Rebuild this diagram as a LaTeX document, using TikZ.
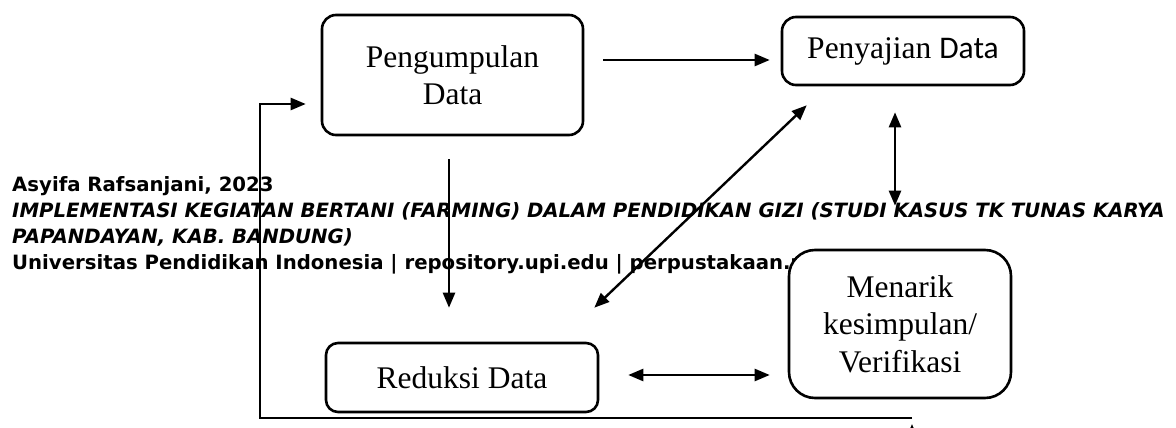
\documentclass[tikz,border=0pt]{standalone}
\usepackage{fontspec}
\setmainfont{Liberation Serif}
\newfontfamily\wmfont{DejaVu Sans}
\newfontfamily\calfont{Carlito}
\usetikzlibrary{arrows.meta}

\begin{document}
\begin{tikzpicture}[x=1pt, y=-1pt,
    stage/.style={rectangle, draw, line width=2.6pt, rounded corners=14pt, fill=white, align=center, inner sep=0pt, font=\fontsize{31.5}{37.5}\selectfont},
    arr/.style={line width=2.4pt, -{Triangle[length=15pt,width=12pt]}},
    darr/.style={line width=2.4pt, {Triangle[length=15pt,width=12pt]}-{Triangle[length=15pt,width=12pt]}},
    wm/.style={anchor=base west, inner sep=0pt, font=\wmfont\bfseries\fontsize{19.7}{24}\selectfont},
    wmi/.style={wm, font=\wmfont\bfseries\itshape\fontsize{19.7}{24}\selectfont}]
    \clip (0,0) rectangle (1176,428);

    % Footer text
    \node[wm] (author) at (12,191) {Asyifa Rafsanjani, 2023};
    \node[wmi] (title1) at (12,217) {IMPLEMENTASI KEGIATAN BERTANI (FARMING) DALAM PENDIDIKAN GIZI (STUDI KASUS TK TUNAS KARYA};
    \node[wmi] (title2) at (12,243) {PAPANDAYAN, KAB. BANDUNG)};
    \node[wm] (univ) at (12,269) {Universitas Pendidikan Indonesia | repository.upi.edu | perpustakaan.upi.edu};

    % Nodes
    \node[stage, minimum width=261pt, minimum height=120pt] (PD) at (452.5,75) {Pengumpulan\\Data};
    \node[stage, minimum width=242pt, minimum height=68pt] (PS) at (903,51) {\raisebox{-2pt}{Penyajian {\calfont Data}}};
    \node[stage, minimum width=272pt, minimum height=69pt, rounded corners=12pt] (RD) at (462,377.5) {Reduksi Data};
    \node[stage, minimum width=222pt, minimum height=148pt, rounded corners=26pt] (MK) at (900,324) {Menarik\\kesimpulan/\\Verifikasi};

    \coordinate (fb) at (912,418);
    \coordinate (cut) at (912,424);

    % Arrows
    \draw[arr] ([shift={(19,-15)}]PD.east) -- ([shift={(-11,9)}]PS.west);
    \draw[arr] ([shift={(-3.5,23)}]PD.south) -- ([shift={(-13,-34)}]RD.north);
    \draw[darr] ([shift={(-5,-34)}]RD.north east) -- ([shift={(26,19)}]PS.south west);
    \draw[darr] ([shift={(-8,26)}]PS.south) -- ([shift={(-5,-43)}]MK.north);
    \draw[darr] ([shift={(29,-2.5)}]RD.east) -- ([shift={(-18,51)}]MK.west);
    \draw[arr] (fb) -- ++(-652,0) |- ([shift={(-15,29)}]PD.west);
    \draw[arr] (cut) ++(0,30) -- (cut);
\end{tikzpicture}
\end{document}
